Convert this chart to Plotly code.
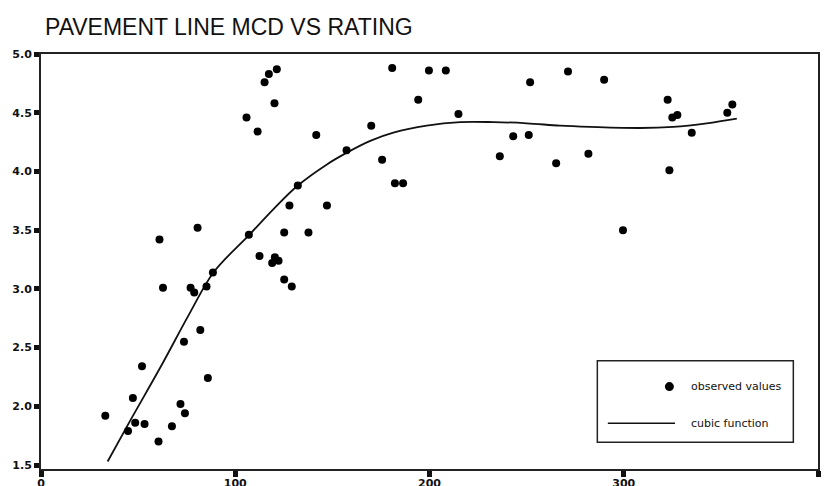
import plotly.graph_objects as go

# Observed values (MCD vs rating)
obs_x = [33.1, 44.8, 47.3, 48.5, 53.3, 52.0, 60.5, 62.8, 67.4, 71.8, 73.6, 74.1, 77.0, 78.9,
         82.0, 85.2, 85.9, 88.5, 61.0, 80.6, 105.8, 111.5, 115.1, 117.3, 121.4, 120.2, 107.0,
         112.5, 141.7, 170.0, 180.8, 199.7, 208.4, 194.2, 214.9, 251.8, 157.3, 175.6, 182.2,
         186.4, 236.2, 243.1, 251.1, 265.2, 132.2, 127.9, 147.2, 125.2, 137.7, 120.4, 122.3,
         119.0, 125.2, 129.1, 271.3, 289.9, 322.6, 325.0, 327.6, 335.0, 353.3, 355.9, 281.8,
         323.5, 299.6]
obs_y = [1.92, 1.79, 2.07, 1.86, 1.85, 2.34, 1.70, 3.01, 1.83, 2.02, 2.55, 1.94, 3.01, 2.97,
         2.65, 3.02, 2.24, 3.14, 3.42, 3.52, 4.46, 4.34, 4.76, 4.83, 4.87, 4.58, 3.46,
         3.28, 4.31, 4.39, 4.88, 4.86, 4.86, 4.61, 4.49, 4.76, 4.18, 4.10, 3.90,
         3.90, 4.13, 4.30, 4.31, 4.07, 3.88, 3.71, 3.71, 3.48, 3.48, 3.27, 3.24,
         3.22, 3.08, 3.02, 4.85, 4.78, 4.61, 4.46, 4.48, 4.33, 4.50, 4.57, 4.15,
         4.01, 3.50]

# Cubic function
curve_x = [34.3, 46.0, 61.4, 76.8, 88.8, 107.2, 119.7, 132.2, 147.2, 157.5, 169.5, 181.4,
           198.6, 215.8, 232.9, 250.1, 267.2, 282.7, 308.4, 325.5, 342.7, 358.2]
curve_y = [1.53, 1.88, 2.33, 2.80, 3.14, 3.46, 3.68, 3.88, 4.06, 4.16, 4.26, 4.33,
           4.39, 4.42, 4.42, 4.41, 4.39, 4.38, 4.37, 4.38, 4.41, 4.45]

x_ticks = [0, 100, 200, 300, 400]
y_ticks = [1.5, 2.0, 2.5, 3.0, 3.5, 4.0, 4.5, 5.0]

title_text = "PAVEMENT LINE MCD VS RATING"
legend_labels = ["observed values", "cubic function"]

fig = go.Figure()
fig.add_trace(go.Scatter(x=curve_x, y=curve_y, mode="lines",
                         line=dict(color="#111111", width=1.8, shape="spline", smoothing=1.0),
                         showlegend=False, hoverinfo="skip"))
fig.add_trace(go.Scatter(x=obs_x, y=obs_y, mode="markers",
                         marker=dict(color="#000000", size=8),
                         showlegend=False))

tickfont = dict(family="DejaVu Sans", size=11, color="#111111", weight="bold")

fig.update_xaxes(range=[0, 400], tickvals=x_ticks, ticks="outside", ticklen=6, tickwidth=5,
                 tickcolor="#111111", showline=True, linecolor="#222222", linewidth=2,
                 mirror=True, showgrid=False, zeroline=False, tickfont=tickfont,
                 ticklabelstandoff=-3, automargin=False)
fig.update_yaxes(range=[1.466, 5.0], tickvals=y_ticks, ticktext=[f"{v:.1f}" for v in y_ticks],
                 ticks="outside", ticklen=5, tickwidth=5, tickcolor="#111111",
                 showline=True, linecolor="#222222", linewidth=2, mirror=True,
                 showgrid=False, zeroline=False, tickfont=tickfont, automargin=False)

# Legend box drawn manually
shapes = [
    dict(type="rect", xref="x", yref="y", x0=286.4, x1=387.3, y0=1.694, y1=2.387,
         line=dict(color="#222222", width=1.5), fillcolor="white", layer="above"),
    dict(type="line", xref="x", yref="y", x0=291.8, x1=326.4, y0=1.856, y1=1.856,
         line=dict(color="#111111", width=1.5), layer="above"),
    dict(type="circle", xref="x", yref="y", xsizemode="pixel", ysizemode="pixel",
         xanchor=323.5, yanchor=2.168, x0=-4.5, x1=4.5, y0=-4.5, y1=4.5,
         fillcolor="#000000", line=dict(color="#000000", width=0), layer="above"),
]
annotations = [
    dict(xref="x", yref="y", x=333.6, y=2.168, text=legend_labels[0], showarrow=False,
         xanchor="left", yanchor="middle",
         font=dict(family="DejaVu Sans", size=11, color="#111111")),
    dict(xref="x", yref="y", x=333.6, y=1.856, text=legend_labels[1], showarrow=False,
         xanchor="left", yanchor="middle",
         font=dict(family="DejaVu Sans", size=11, color="#111111")),
]

fig.update_layout(
    width=826, height=486,
    margin=dict(l=41, r=8, t=54, b=17, pad=0),
    paper_bgcolor="white", plot_bgcolor="white",
    title=dict(text=title_text, x=45 / 826, xanchor="left", xref="container",
               y=1 - 27 / 486, yanchor="middle", yref="container", automargin=False,
               font=dict(family="Liberation Sans, Arial", size=23, color="#111111")),
    shapes=shapes, annotations=annotations,
)

fig.write_html("out.html")
